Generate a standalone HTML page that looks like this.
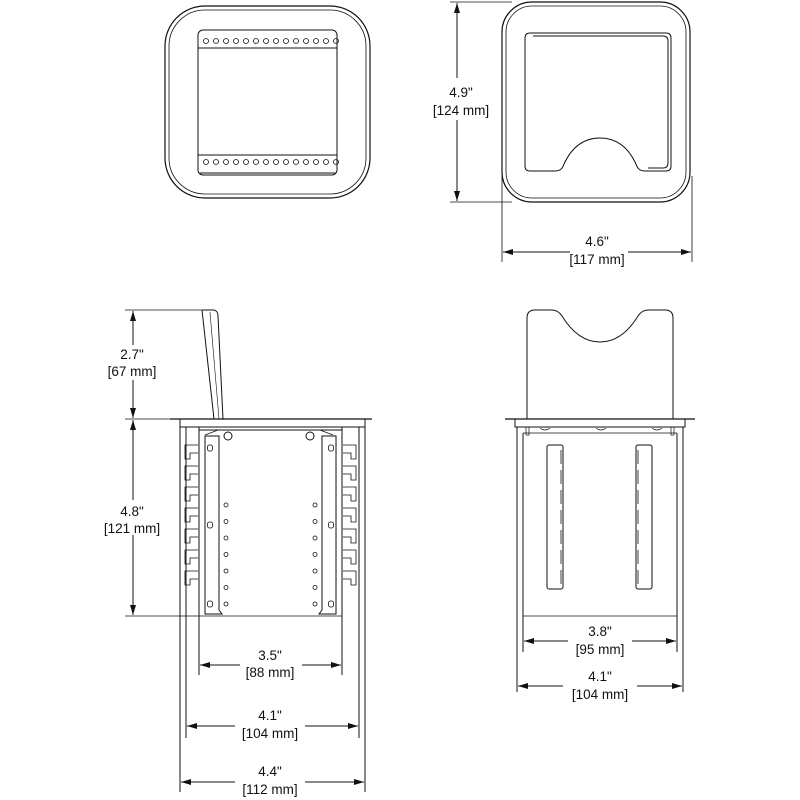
<!DOCTYPE html>
<html><head><meta charset="utf-8"><style>
html,body{margin:0;padding:0;background:#fff;width:800px;height:800px;overflow:hidden}
svg{display:block}
text{font-family:"Liberation Sans",Arial,sans-serif;font-size:13.5px;fill:#111;stroke:none;text-anchor:middle}
</style></head><body>
<svg id="s" width="800" height="800" viewBox="0 0 800 800" xmlns="http://www.w3.org/2000/svg" fill="none" stroke="#111" stroke-width="1">
<defs>
<marker id="a" viewBox="0 0 10 6" refX="10" refY="3" markerWidth="10" markerHeight="6" orient="auto-start-reverse" markerUnits="userSpaceOnUse"><path d="M0,0 L10,3 L0,6 Z" fill="#111" stroke="none"/></marker>
</defs>
<!-- Top-left view -->
<rect x="165" y="6" width="205" height="192" rx="40" stroke-width="1.2"/>
<rect x="169" y="10" width="197" height="184" rx="36" stroke-width="0.8"/>
<rect x="198" y="30" width="139" height="145" rx="5"/>
<line x1="198" y1="48" x2="337" y2="48"/>
<line x1="198" y1="155" x2="337" y2="155"/>
<line x1="200" y1="173" x2="335" y2="173"/>
<g id="tlholes" stroke-width="0.8"></g>
<!-- Top-right view -->
<rect x="502" y="2" width="188" height="200" rx="30" stroke-width="1.2"/>
<rect x="506" y="6" width="180" height="192" rx="26" stroke-width="0.8"/>
<path d="M530,33 H666 Q671,33 671,38 V166 Q671,171 666,171 H645 Q638,171 636,164 Q624,138 600,138 Q576,138 564,164 Q562,171 555,171 H530 Q525,171 525,166 V38 Q525,33 530,33 Z"/>
<path d="M533,36 H663 Q668,36 668,41 V163 Q668,168 663,168 H648"/>
<!-- 4.9 dim -->
<line x1="450" y1="2" x2="512" y2="2" stroke-width="0.8"/>
<line x1="450" y1="202" x2="512" y2="202" stroke-width="0.8"/>
<line x1="457" y1="3" x2="457" y2="78" marker-start="url(#a)"/>
<line x1="457" y1="120" x2="457" y2="201" marker-end="url(#a)"/>
<text x="461" y="97">4.9"</text><text x="461" y="115">[124 mm]</text>
<line x1="502" y1="176" x2="502" y2="262" stroke-width="0.8"/>
<line x1="692" y1="176" x2="692" y2="262" stroke-width="0.8"/>
<line x1="503" y1="252" x2="570" y2="252" marker-start="url(#a)"/>
<line x1="628" y1="252" x2="691" y2="252" marker-end="url(#a)"/>
<text x="597" y="246">4.6"</text><text x="597" y="264">[117 mm]</text>

<!-- Bottom-left view -->
<line x1="125" y1="310" x2="208" y2="310" stroke-width="0.8"/>
<path d="M202,310 L214,310 Q218,311 218,316 L223,419 M202,310 L214,419"/>
<line x1="210" y1="312" x2="219" y2="419" stroke-width="0.6"/>
<line x1="125" y1="419" x2="180" y2="419" stroke-width="0.8"/>
<line x1="170" y1="419" x2="372" y2="419" stroke-width="1.3"/>
<rect x="180" y="419" width="185" height="8"/>
<line x1="180" y1="427" x2="180" y2="792"/>
<line x1="186" y1="427" x2="186" y2="738"/>
<line x1="359" y1="427" x2="359" y2="738"/>
<line x1="365" y1="427" x2="365" y2="792"/>
<line x1="199" y1="427" x2="199" y2="675"/>
<line x1="342" y1="427" x2="342" y2="675"/>
<line x1="199" y1="430" x2="342" y2="430"/>
<line x1="125" y1="616" x2="342" y2="616" stroke-width="0.8"/>
<path d="M205,435 L218,430 L320,430 L333,435" stroke-width="0.8"/>
<path d="M205,436 H219 V610 L222,614 H205 Z"/>
<path d="M336,436 H322 V610 L319,614 H336 Z"/>
<circle cx="228" cy="436" r="4"/><circle cx="310" cy="436" r="4"/>
<g id="bl" stroke-width="0.8"></g>
<line x1="133" y1="311" x2="133" y2="345" marker-start="url(#a)"/>
<line x1="133" y1="380" x2="133" y2="418" marker-end="url(#a)"/>
<line x1="133" y1="420" x2="133" y2="500" marker-start="url(#a)"/>
<line x1="133" y1="535" x2="133" y2="615" marker-end="url(#a)"/>
<text x="132" y="359">2.7"</text><text x="132" y="376">[67 mm]</text>
<text x="132" y="516">4.8"</text><text x="132" y="533">[121 mm]</text>
<line x1="200" y1="665" x2="240" y2="665" marker-start="url(#a)"/>
<line x1="302" y1="665" x2="341" y2="665" marker-end="url(#a)"/>
<text x="270" y="660">3.5"</text><text x="270" y="677">[88 mm]</text>
<line x1="187" y1="726" x2="235" y2="726" marker-start="url(#a)"/>
<line x1="305" y1="726" x2="358" y2="726" marker-end="url(#a)"/>
<text x="270" y="720">4.1"</text><text x="270" y="738">[104 mm]</text>
<line x1="181" y1="782" x2="235" y2="782" marker-start="url(#a)"/>
<line x1="305" y1="782" x2="364" y2="782" marker-end="url(#a)"/>
<text x="270" y="776">4.4"</text><text x="270" y="794">[112 mm]</text>

<!-- Bottom-right view -->
<path d="M527,419 V318 Q527,310 535,310 H552 Q558,310 562,316 Q578,342 600,342 Q622,342 638,316 Q642,310 648,310 H665 Q673,310 673,318 V419"/>
<line x1="505" y1="419" x2="695" y2="419" stroke-width="1.3"/>
<rect x="515" y="419" width="170" height="8"/>
<line x1="517" y1="427" x2="517" y2="692"/>
<line x1="523" y1="433" x2="523" y2="652"/>
<line x1="677" y1="433" x2="677" y2="652"/>
<line x1="683" y1="427" x2="683" y2="692"/>
<line x1="523" y1="433" x2="677" y2="433" stroke-width="0.8"/>
<line x1="523" y1="616" x2="677" y2="616" stroke-width="0.8"/>
<rect x="526" y="427" width="3" height="8" stroke-width="0.7"/><rect x="671" y="427" width="3" height="8" stroke-width="0.7"/>
<path d="M540,428 Q545,432 550,428 M596,428 Q601,432 606,428 M652,428 Q657,432 662,428" stroke-width="0.7"/>
<rect x="547" y="445" width="16" height="144" rx="2"/>
<rect x="636" y="445" width="16" height="144" rx="2"/>
<g id="br" stroke-width="0.8"></g>
<line x1="524" y1="641" x2="568" y2="641" marker-start="url(#a)"/>
<line x1="632" y1="641" x2="676" y2="641" marker-end="url(#a)"/>
<text x="600" y="636">3.8"</text><text x="600" y="654">[95 mm]</text>
<line x1="518" y1="686" x2="563" y2="686" marker-start="url(#a)"/>
<line x1="637" y1="686" x2="682" y2="686" marker-end="url(#a)"/>
<text x="600" y="681">4.1"</text><text x="600" y="699">[104 mm]</text>
</svg>
<script>
var NS="http://www.w3.org/2000/svg";
function add(g,tag,at){var e=document.createElementNS(NS,tag);for(var k in at)e.setAttribute(k,at[k]);document.getElementById(g).appendChild(e);}
for(var i=0;i<14;i++){var x=206+i*10;add("tlholes","circle",{cx:x,cy:41,r:2.5});add("tlholes","circle",{cx:x,cy:162,r:2.5});}
for(var i=0;i<7;i++){var y=445+i*21;
 add("bl","path",{d:"M198,"+y+" H185 V"+(y+14)+" H190 V"+(y+8)+" H198"});
 add("bl","path",{d:"M343,"+y+" H356 V"+(y+14)+" H351 V"+(y+8)+" H343"});
 add("bl","circle",{cx:226,cy:505+i*16.5,r:2});add("bl","circle",{cx:315,cy:505+i*16.5,r:2});
 add("br","line",{x1:561,y1:450+i*20,x2:561,y2:464+i*20});add("br","line",{x1:638,y1:450+i*20,x2:638,y2:464+i*20});}
[[210,448],[210,525],[210,604],[331,448],[331,525],[331,604]].forEach(function(p){add("bl","rect",{x:p[0]-2.5,y:p[1]-3,width:5,height:6,rx:2});});
</script>
</body></html>
